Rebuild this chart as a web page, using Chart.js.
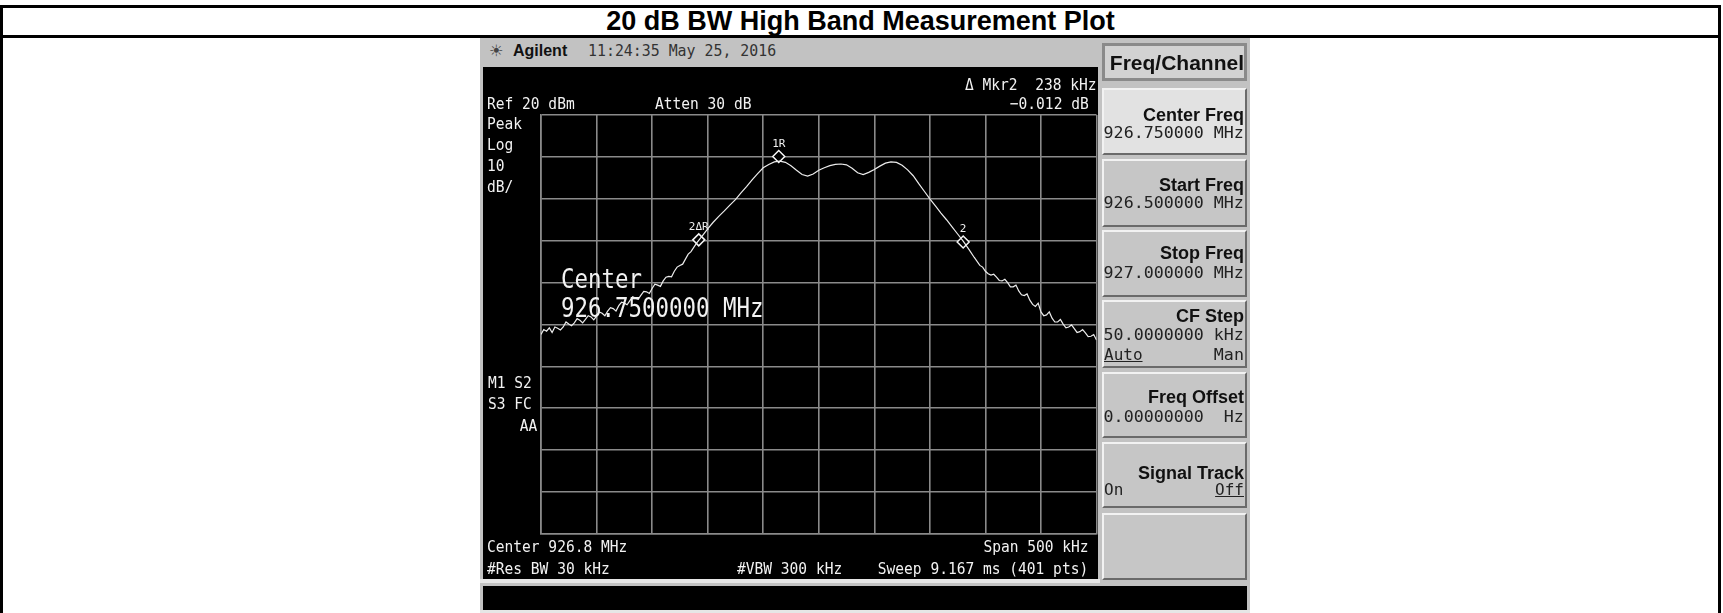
<!DOCTYPE html>
<html><head><meta charset="utf-8">
<script src="https://cdn.jsdelivr.net/npm/chart.js@4.4.0/dist/chart.umd.min.js"></script>
<style>
html,body{margin:0;padding:0;background:#fff;}
body{width:1723px;height:613px;overflow:hidden;position:relative;font-family:"Liberation Sans",Arial,sans-serif;}
.a{position:absolute;box-sizing:border-box;}
.sk{position:absolute;left:1102px;width:145px;box-sizing:border-box;background:#c6c6c6;border-top:2px solid #f2f2f2;border-left:2px solid #f2f2f2;border-right:2px solid #6a6a6a;border-bottom:2px solid #6a6a6a;}
</style></head>
<body>
<div class="a" style="left:0;top:5px;width:1721px;height:640px;border:3px solid #000;"></div>
<div class="a" style="left:0;top:35px;width:1721px;height:3px;background:#000;"></div>
<div class="a" id="title" style="left:0;top:8px;width:1721px;height:27px;line-height:27px;text-align:center;font-weight:bold;font-size:27px;color:#000;">20 dB BW High Band Measurement Plot</div>

<div class="a" style="left:480px;top:38px;width:770px;height:575px;background:#c2c2c2;"></div>
<div class="a" style="left:480px;top:579px;width:620px;height:4px;background:#e6e6e6;"></div>
<div class="a" style="left:483px;top:586px;width:764px;height:24px;background:#000;"></div>
<div class="a" style="left:480px;top:610px;width:770px;height:3px;background:#e6e6e6;"></div>
<div class="a" style="left:483px;top:67px;width:615px;height:512px;background:#000;"></div>

<div class="a" style="left:1102px;top:43px;width:145px;height:38px;background:#d2d2d2;border:3px solid #8a8a8a;"></div>
<div class="sk" style="top:88px;height:67px;background:#e2e2e2;"></div>
<div class="sk" style="top:159px;height:68px;"></div>
<div class="sk" style="top:230px;height:67px;"></div>
<div class="sk" style="top:300px;height:68px;"></div>
<div class="sk" style="top:372px;height:66px;"></div>
<div class="sk" style="top:442px;height:66px;"></div>
<div class="sk" style="top:513px;height:67px;"></div>

<canvas id="c" width="621" height="512" class="a" style="left:483px;top:67px;width:621px;height:512px;"></canvas>

<script>
// ---- data (frequency offset from 926.5 MHz start, kHz) ----
const freqOffsetKHz = [
  0,2.5,5,7.5,10,12.5,15,17.5,20,22.5,25,27.5,30,32.5,35,37.5,40,42.5,45,47.5,
  50,52.5,55,57.5,60,62.5,65,67.5,70,72.5,75,77.5,80,82.5,85,87.5,90,92.5,95,97.5,
  100,102.5,105,107.5,110,112.5,115,117.5,120,122.5,125,127.5,130,132.5,135,
  140,145,150,155,160,165,170,175,180,185,190,195,200,
  205,210,215,220,225,230,235,240,245,250,255,260,265,270,275,280,285,290,295,300,
  305,310,315,320,325,330,335,340,345,350,355,360,365,370,375,380,385,390,395,
  397.5,400,402.5,405,407.5,410,412.5,415,417.5,420,422.5,425,427.5,430,432.5,435,437.5,
  440,442.5,445,447.5,450,452.5,455,457.5,460,462.5,465,467.5,470,472.5,475,477.5,
  480,482.5,485,487.5,490,492.5,495,497.5,500];
const levelDbm = [
  -32.4,-31.2,-31.6,-30.8,-31.9,-30.6,-30.9,-31.3,-30.6,-29.4,-29.9,-30.3,-29.6,-28.6,-29.0,-29.6,-28.8,-27.9,-28.2,-28.9,
  -28.0,-27.0,-27.3,-27.9,-26.8,-26.0,-26.2,-26.8,-25.5,-24.7,-24.9,-25.3,-24.3,-23.4,-23.7,-24.0,-23.0,-22.1,-22.2,-22.6,
  -21.4,-20.4,-20.6,-20.9,-19.6,-18.7,-18.5,-18.6,-17.3,-16.3,-15.9,-15.6,-14.4,-13.2,-12.6,
  -10.6,-8.9,-7.2,-5.6,-4.2,-2.9,-1.5,-0.2,1.4,2.9,4.5,6.0,7.4,
  8.2,8.8,9.0,8.7,7.9,6.8,5.8,5.4,5.9,6.8,7.4,7.9,8.2,8.3,8.1,7.3,6.2,5.8,6.3,7.0,
  7.8,8.5,8.8,8.7,8.0,6.9,5.5,3.6,1.8,0.0,-1.7,-3.4,-5.0,-6.7,-8.4,-10.1,-12.0,-14.0,-15.9,
  -16.3,-17.3,-17.9,-18.2,-18.0,-18.7,-19.5,-19.6,-19.2,-20.0,-21.0,-21.0,-20.6,-22.0,-22.9,-23.1,-22.7,
  -24.2,-25.2,-25.7,-24.9,-27.0,-27.9,-27.7,-27.0,-28.5,-29.4,-29.4,-28.8,-29.9,-30.8,-30.6,-30.1,
  -31.0,-31.9,-31.7,-31.2,-32.0,-32.9,-32.8,-32.4,-33.7];
const markerKHz = [214, 142, 380];
const markerDbm = [10.1, -9.8, -10.3];
const markerLabels = ['1R', '2\u0394R', '2'];
const spanKHz = 500, freqDivKHz = 50;
const refLevelDbm = 20, dbPerDiv = 10, yDivs = 10;

const MONO = '"DejaVu Sans Mono", "Liberation Mono", monospace';
const SANS = '"Liberation Sans", Arial, sans-serif';

const markerLabelPlugin = {
  id: 'markerLabels',
  afterDatasetsDraw(chart) {
    const meta = chart.getDatasetMeta(1);
    const ctx = chart.ctx;
    ctx.save();
    ctx.fillStyle = '#f0f0f0';
    ctx.font = '11px ' + MONO;
    ctx.textAlign = 'center';
    ctx.textBaseline = 'bottom';
    meta.data.forEach((p, i) => ctx.fillText(markerLabels[i], p.x, p.y - 7));
    ctx.restore();
  }
};

new Chart(document.getElementById('c'), {
  type: 'scatter',
  data: {
    datasets: [{
      data: freqOffsetKHz.map((f, i) => ({x: f, y: levelDbm[i]})),
      showLine: true, borderColor: '#ececec', borderWidth: 1.2, pointRadius: 0, tension: 0
    }, {
      data: markerKHz.map((f, i) => ({x: f, y: markerDbm[i]})),
      showLine: false, pointStyle: 'rectRot', pointRadius: 6, borderColor: '#f4f4f4',
      backgroundColor: 'rgba(0,0,0,1)', borderWidth: 1.5
    }]
  },
  options: {
    responsive: false, animation: false, events: [],
    layout: {padding: {left: 58, right: 0, top: 48, bottom: 45}},
    plugins: {legend: {display: false}, tooltip: {enabled: false}},
    scales: {
      x: {type: 'linear', min: 0, max: spanKHz,
        ticks: {display: false, stepSize: freqDivKHz},
        grid: {color: '#8a8a8a', lineWidth: 1.6, drawTicks: false},
        border: {display: true, color: '#8a8a8a', width: 1.6}},
      y: {type: 'linear', min: refLevelDbm - dbPerDiv * yDivs, max: refLevelDbm,
        ticks: {display: false, stepSize: dbPerDiv},
        grid: {color: '#8a8a8a', lineWidth: 1.6, drawTicks: false},
        border: {display: true, color: '#8a8a8a', width: 1.6}}
    }
  },
  plugins: [markerLabelPlugin]
});

function put(txt, x, y, o) {
  o = o || {};
  const d = document.createElement('div');
  d.textContent = txt;
  const size = o.size || 16;
  d.style.cssText = 'position:absolute;white-space:pre;line-height:' + size + 'px;font-size:' + size +
    'px;font-family:' + (o.fam || MONO) + ';color:' + (o.color || '#f2f2f2') + ';font-weight:' +
    (o.bold ? 'bold' : 'normal') + ';top:' + (y - size * 0.5) + 'px;';
  if (o.align === 'right') { d.style.right = (1723 - x) + 'px'; d.style.transformOrigin = 'right center'; }
  else { d.style.left = x + 'px'; d.style.transformOrigin = 'left center'; }
  if (o.sx) d.style.transform = 'scaleX(' + o.sx + ')';
  if (o.u) d.style.textDecoration = 'underline';
  document.body.appendChild(d);
}
const P = {sx: 0.91};
const R = {sx: 0.91, align: 'right'};
// header
put('\u2600', 489, 51, {fam: '"DejaVu Sans", sans-serif', size: 16, color: '#444'});
put('Agilent', 513, 51, {fam: SANS, size: 16, bold: true, color: '#111'});
put('11:24:35 May 25, 2016', 588, 51, {size: 16, sx: 0.93, color: '#333'});
// panel annotations
put('\u0394 Mkr2  238 kHz', 1096, 85, R);
put('Ref 20 dBm', 487, 104, P);
put('Atten 30 dB', 655, 104, P);
put('\u22120.012 dB', 1089, 104, R);
put('Peak', 487, 124, P);
put('Log', 487, 145, P);
put('10', 487, 166, P);
put('dB/', 487, 187, P);
put('M1 S2', 488, 383, P);
put('S3 FC', 488, 404, P);
put('AA', 537, 426, R);
put('Center 926.8 MHz', 487, 547, P);
put('Span 500 kHz', 1089, 547, R);
put('#Res BW 30 kHz', 487, 569, P);
put('#VBW 300 kHz', 737, 569, P);
put('Sweep 9.167 ms (401 pts)', 1088, 569, R);
put('Center', 561, 278, {size: 27, sx: 0.83});
put('926.7500000 MHz', 561, 307, {size: 27, sx: 0.83});
// softkeys
const K = {fam: SANS, size: 18, bold: true, color: '#111', align: 'right'};
const V = {size: 16, color: '#222', align: 'right', sx: 1.04};
put('Freq/Channel', 1244, 62, {fam: SANS, size: 21, bold: true, color: '#111', align: 'right'});
put('Center Freq', 1244, 115, K); put('926.750000 MHz', 1244, 133, V);
put('Start Freq', 1244, 185, K); put('926.500000 MHz', 1244, 203, V);
put('Stop Freq', 1244, 253, K); put('927.000000 MHz', 1244, 273, V);
put('CF Step', 1244, 316, K); put('50.0000000 kHz', 1244, 335, V);
put('Auto', 1104, 355, {size: 16, color: '#222', u: true}); put('Man', 1244, 355, V);
put('Freq Offset', 1244, 397, K); put('0.00000000  Hz', 1244, 417, V);
put('Signal Track', 1244, 473, K);
put('On', 1104, 490, {size: 16, color: '#222'}); put('Off', 1244, 490, {size: 16, color: '#222', align: 'right', u: true});
</script>
</body></html>
